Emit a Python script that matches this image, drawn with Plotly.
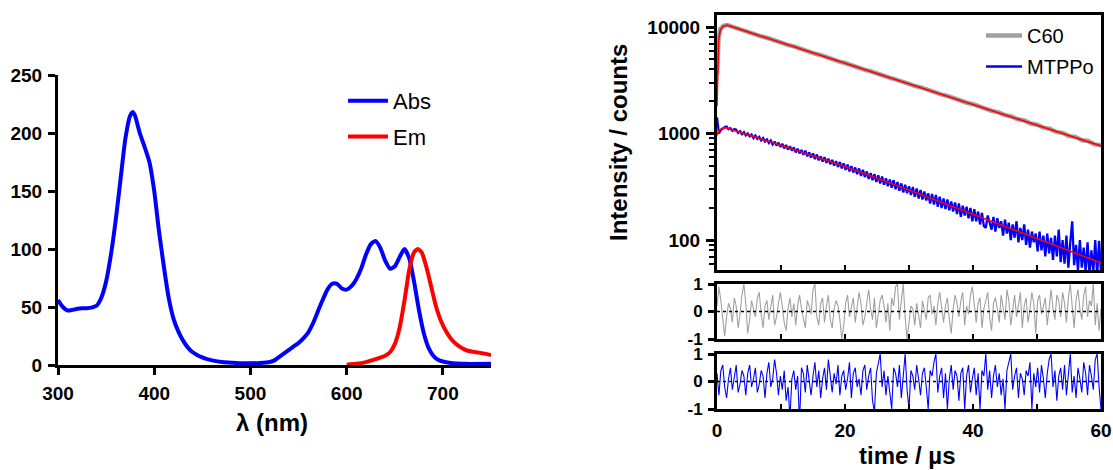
import numpy as np
import plotly.graph_objects as go

# ---------------- absorption / emission spectra ----------------
abs_nm = [300, 305, 310, 315, 320, 325, 330, 335, 340, 345, 350, 355, 360, 365, 370, 375, 378,
          380, 385, 390, 395, 400, 405, 410, 415, 420, 425, 430, 435, 440, 445, 450, 455, 460,
          470, 480, 490, 500, 510, 520, 525, 530, 535, 540, 545, 550, 555, 560, 565, 570, 575,
          580, 585, 590, 595, 600, 605, 610, 615, 620, 625, 630, 635, 640, 645, 650, 655, 660,
          665, 670, 675, 680, 685, 690, 695, 700, 710, 720, 750]
abs_val = [56, 50, 47, 47.5, 48.5, 49, 49, 49.5, 51, 58, 72, 95, 125, 160, 195, 215, 218,
           215, 200, 188, 175, 150, 115, 85, 58, 40, 29, 21, 15, 11, 8.5, 6.5, 5, 4,
           2.5, 2, 1.5, 1.5, 1.8, 2.6, 4, 7, 10, 13, 16, 19, 23, 28, 36, 46, 56,
           65, 70, 70, 66, 65, 68, 74, 83, 95, 104, 107, 101, 90, 83, 85, 93, 100,
           92, 72, 48, 28, 15, 8, 4.5, 3, 1.5, 1, 1]

em_nm = [600, 610, 620, 630, 640, 645, 650, 655, 660, 665, 670, 674, 678, 683, 688, 693, 698,
         704, 710, 717, 725, 735, 742, 750]
em_val = [0.3, 1, 2.5, 5, 8, 11, 18, 32, 55, 82, 97, 100, 97, 84, 67, 50, 38,
          28, 21, 16, 12.5, 11, 10, 8.5]

# ---------------- luminescence decays ----------------
c60_t = [0, 0.25, 0.5, 1, 1.6] + list(range(2, 61))
c60_counts = [3600, 7900, 9500, 10250, 10450,
              10250, 9720, 9380, 8900, 8580, 8140, 7850, 7440, 7180, 6800,
              6570, 6220, 6000, 5690, 5490, 5200, 5020, 4760, 4590, 4350,
              4200, 3980, 3840, 3640, 3510, 3330, 3210, 3045, 2935, 2785,
              2690, 2545, 2460, 2330, 2250, 2130, 2060, 1945, 1885, 1780,
              1725, 1625, 1580, 1485, 1445, 1360, 1325, 1240, 1210, 1135,
              1110, 1035, 1015, 945, 930, 865, 850, 790, 775]

# MTPPo decay, one channel every 0.3 us from 0 to 60 us
mt_counts = [1420, 1000, 1075, 1115, 1150, 1160, 1095, 1120, 1060, 1100,
             1085, 1010, 1050, 985, 1030, 960, 1000, 940, 975, 905,
             955, 890, 930, 860, 905, 840, 880, 815, 860, 790,
             840, 770, 820, 750, 800, 725, 780, 705, 760, 690,
             740, 665, 720, 650, 700, 630, 690, 610, 665, 595,
             650, 575, 635, 560, 610, 545, 600, 530, 580, 515,
             565, 500, 550, 485, 540, 470, 525, 455, 510, 440,
             495, 430, 480, 415, 470, 400, 455, 390, 440, 375,
             425, 365, 415, 350, 405, 340, 395, 330, 380, 320,
             370, 310, 365, 300, 350, 290, 340, 280, 330, 275,
             320, 265, 315, 255, 305, 245, 295, 240, 285, 235,
             275, 220, 270, 215, 265, 205, 255, 200, 245, 195,
             240, 190, 230, 185, 225, 175, 220, 165, 210, 170,
             205, 160, 200, 150, 195, 150, 185, 140, 180, 135,
             130, 170, 145, 125, 165, 120, 160, 130, 150, 110,
             155, 115, 145, 100, 140, 105, 150, 95, 130, 100,
             140, 90, 125, 85, 120, 95, 115, 78, 120, 80,
             110, 70, 115, 75, 105, 65, 110, 70, 125, 62,
             100, 60, 110, 55, 95, 150, 58, 90, 52, 100,
             55, 85, 50, 95, 48, 80, 50, 100, 47, 98,
             50]
mt_t = np.linspace(0, 60, len(mt_counts))

# fitted decay curves
c60_fit_t = [0, 0.1, 0.25, 0.5, 0.9, 1.6, 10, 20, 30, 40, 50, 60]
c60_fit = [1800, 4500, 7400, 9300, 10100, 10400, 7144, 4571, 2924, 1871, 1197, 765]
mt_fit_t = [0, 0.3, 0.7, 1.3, 10, 20, 30, 40, 50, 60]
mt_fit = [960, 1060, 1115, 1135, 776, 490, 295, 174, 102, 61]

# weighted residuals of the two fits (same 0.3 us channels)
c60_resid = [0.2, 0.9, 0.4, -0.3, -0.9, -0.2, 0.3, 0.1, -0.4, 0.5, 0.2, -0.6, -0.1, 0.6, 1.0, 0.3, -0.8, -0.3, 0.4, 0.1,
             -0.2, 0.5, 0.7, -0.1, -0.6, 0.2, 0.4, -0.3, 0.1, 0.6, -0.5, -0.2, 0.3, 0.7, 0.2, -0.4, -0.7, 0.1, 0.5, -0.2,
             0.3, -0.5, 0.2, 0.6, 0.1, -0.3, -0.6, 0.4, 0.2, -0.1, 0.8, 1.0, -0.2, -0.5, 0.3, 0.5, -0.4, 0.2, 0.6, -0.3,
             -0.6, 0.1, 0.4, 0.2, -0.3, -1.0, -0.5, 0.3, 0.6, -0.2, 0.1, 0.5, -0.4, 0.2, 0.7, 0.3, -0.5, -0.2, 0.4, 0.8,
             0.1, -0.3, 0.5, -0.6, -0.1, 0.4, 0.6, 0.2, -0.4, 0.3, -0.7, 0.5, 0.2, 0.9, 1.0, -0.3, 0.4, 1.0, -0.2, -1.0,
             -0.4, 0.2, 0.1, -0.5, 0.3, -0.2, -0.6, 0.4, 0.1, -0.3, 0.5, 0.6, -0.1, 0.2, -0.5, 0.3, 0.7, 0.1, -0.4, 0.2,
             0.5, -0.3, -0.8, 0.1, 0.6, 0.3, -0.2, 0.4, 0.7, -0.5, 0.2, -0.1, 0.6, 0.9, 0.2, -0.4, 0.3, 0.5, -0.6, 0.1,
             0.4, 0.7, -0.2, -0.7, 0.3, 0.5, 0.1, -0.4, 0.6, 0.2, -0.3, 0.8, 0.4, -0.5, 0.1, 0.6, -0.2, 0.3, 0.7, -0.6,
             0.2, 0.5, -0.4, 0.1, 0.7, 0.3, -0.8, 0.4, 0.6, -0.1, 0.2, 0.5, -0.5, 0.3, 0.8, 0.1, -0.3, 0.6, 0.4, -0.2,
             0.7, 0.3, -0.4, 0.5, 1.0, 0.2, -0.6, 0.4, 0.8, 0.1, -0.3, 0.6, 0.9, -0.2, 0.4, 0.2, 1.0, -0.5, 0.3, -0.7,
             0.1]
mt_resid = [0.3, -0.5, 0.4, 0.6, -0.2, -0.6, 0.1, 0.5, -0.3, 0.2, 0.6, -0.4, -0.1, 0.4, 0.2, -0.5, 0.3, 0.6, -0.2, 0.1,
            0.5, -0.4, -0.1, 0.4, 0.2, -0.6, 0.3, 0.7, -0.2, 0.1, 0.8, 0.3, -0.5, 0.2, -0.3, 0.4, -0.7, -0.2, -1.3, 0.1,
            0.4, -0.3, 0.2, -1.5, 0.5, 0.3, -0.4, 0.6, 0.1, -0.5, 0.2, 0.7, -0.2, 0.4, -0.6, 0.1, 0.5, -0.3, 0.8, 0.2,
            -0.4, 0.3, -0.1, 0.6, -0.5, 0.2, 0.4, -0.3, 0.1, 0.7, -0.6, 0.3, 0.5, -0.2, 0.1, -0.5, 0.4, 0.6, -0.3, 0.2,
            0.5, -0.7, -1.1, 0.3, 0.6, 1.0, -0.2, 0.4, -0.5, 0.2, -0.4, -1.0, 0.5, 0.3, -0.2, 0.6, -0.6, 0.1, 1.0, -0.3,
            -1.0, 0.4, 0.2, -0.3, 0.6, 0.1, -0.5, 0.3, 0.5, -0.2, -1.0, 0.4, 0.2, 0.7, 1.0, -0.4, 0.2, 0.5, -0.6, 0.3,
            -1.0, 0.1, 0.6, -0.3, 0.4, 0.2, -0.7, 0.3, 0.5, -1.0, 0.2, 0.6, -0.4, 0.1, 0.5, -0.5, 0.3, -1.0, 0.4, 0.2,
            1.0, -0.3, 0.4, -0.6, 0.2, 0.6, -0.2, 0.3, -0.5, 0.1, -1.0, 0.4, 0.7, 1.0, -0.3, 0.2, 0.5, -0.6, 0.3, 0.1,
            -0.5, 0.4, 0.2, 0.7, -1.0, 0.3, -0.2, 0.5, -0.4, 0.6, 0.1, -0.6, 0.3, 0.8, 1.0, -0.2, 0.4, -0.7, 0.2, 0.5,
            -0.3, 0.6, -0.5, 0.3, 1.0, -0.4, 0.2, -0.6, 0.5, 0.1, -0.4, 0.7, 0.3, -0.5, 0.6, 0.2, -0.3, 0.8, 1.0, -0.2,
            -1.0]
c60_resid_t = np.linspace(0, 60, len(c60_resid))
mt_resid_t = np.linspace(0, 60, len(mt_resid))

# ---------------- styling ----------------
FONT = "Liberation Sans, Arial, sans-serif"
TICKFONT = dict(family=FONT, size=19, color="black", weight="bold")
RES_TICKFONT = dict(family=FONT, size=17, color="black", weight="bold")
BLUE = "#0000FF"
RED = "#FF0000"
GREY = "#A0A0A0"

W, H = 1113, 470


def px_x(p):
    return p / W


def px_y(p):
    return 1 - p / H


fig = go.Figure()

# spectra
fig.add_trace(go.Scatter(x=abs_nm, y=abs_val, mode="lines", name="Abs",
                         line=dict(color=BLUE, width=4, shape="spline", smoothing=0.6),
                         xaxis="x", yaxis="y", legend="legend", legendgroup="a"))
fig.add_trace(go.Scatter(x=em_nm, y=em_val, mode="lines", name="Em",
                         line=dict(color=RED, width=4, shape="spline", smoothing=0.6),
                         xaxis="x", yaxis="y", legend="legend", legendgroup="b"))

# decays
fig.add_trace(go.Scatter(x=c60_t, y=c60_counts, mode="lines", name="C60",
                         line=dict(color=GREY, width=4.5),
                         xaxis="x2", yaxis="y2", legend="legend2", legendgroup="c"))
fig.add_trace(go.Scatter(x=mt_t, y=mt_counts, mode="lines", name="MTPPo",
                         line=dict(color=BLUE, width=2.3),
                         xaxis="x2", yaxis="y2", legend="legend2", legendgroup="d"))
fig.add_trace(go.Scatter(x=c60_fit_t, y=c60_fit, mode="lines", showlegend=False,
                         line=dict(color=RED, width=1.6), xaxis="x2", yaxis="y2"))
fig.add_trace(go.Scatter(x=mt_fit_t, y=mt_fit, mode="lines", showlegend=False,
                         line=dict(color=RED, width=1.6), xaxis="x2", yaxis="y2"))

# residuals
fig.add_trace(go.Scatter(x=c60_resid_t, y=c60_resid, mode="lines", showlegend=False,
                         line=dict(color=GREY, width=1.1), xaxis="x3", yaxis="y3"))
fig.add_trace(go.Scatter(x=mt_resid_t, y=mt_resid, mode="lines", showlegend=False,
                         line=dict(color=BLUE, width=1.1), xaxis="x4", yaxis="y4"))

axis_common = dict(showgrid=False, zeroline=False, showline=True, linecolor="black",
                   tickcolor="black", ticklabelstandoff=2, automargin=False)

left_dom_x = [px_x(58), px_x(491)]
right_dom_x = [px_x(717), px_x(1101)]

fig.update_layout(
    width=W, height=H,
    margin=dict(l=0, r=0, t=0, b=0, autoexpand=False),
    paper_bgcolor="white", plot_bgcolor="white",
    font=dict(family=FONT, color="black"),
    xaxis=dict(domain=left_dom_x, anchor="y", range=[300, 750],
               tickvals=[300, 400, 500, 600, 700], ticks="outside", ticklen=7,
               tickwidth=3, linewidth=3, tickfont=TICKFONT, **axis_common),
    yaxis=dict(domain=[px_y(365), px_y(75)], anchor="x", range=[0, 250],
               tickvals=[0, 50, 100, 150, 200, 250], ticks="outside", ticklen=7,
               tickwidth=3, linewidth=3, tickfont=TICKFONT, **axis_common),
    xaxis2=dict(domain=right_dom_x, anchor="y2", range=[0, 60],
                tickvals=[0, 10, 20, 30, 40, 50, 60], showticklabels=False,
                ticks="inside", ticklen=5, tickwidth=2, linewidth=3, mirror=True,
                tickfont=TICKFONT, **axis_common),
    yaxis2=dict(domain=[px_y(270), px_y(15)], anchor="x2", type="log",
                range=[1.7183, 4.1127], dtick=1, tickformat="d",
                ticks="outside", ticklen=8, tickwidth=2.5, linewidth=3, mirror=True,
                minor=dict(dtick="D1", ticks="outside", ticklen=5, tickwidth=2,
                           tickcolor="black"),
                tickfont=TICKFONT, **axis_common),
    xaxis3=dict(domain=right_dom_x, anchor="y3", range=[0, 60],
                tickvals=[0, 10, 20, 30, 40, 50, 60], showticklabels=False,
                ticks="inside", ticklen=5, tickwidth=2, linewidth=3, mirror=True,
                tickfont=TICKFONT, **axis_common),
    yaxis3=dict(domain=[px_y(339), px_y(284)], anchor="x3", range=[-1, 1],
                tickvals=[-1, 0, 1], ticktext=["-1", "0", "1"],
                ticks="outside", ticklen=6, tickwidth=2.5, linewidth=3, mirror=True,
                tickfont=RES_TICKFONT, **axis_common),
    xaxis4=dict(domain=right_dom_x, anchor="y4", range=[0, 60],
                tickvals=[0, 20, 40, 60],
                ticks="inside", ticklen=5, tickwidth=2, linewidth=3, mirror=True,
                minor=dict(tickvals=[10, 30, 50], ticks="inside", ticklen=5, tickwidth=2,
                           tickcolor="black"),
                tickfont=TICKFONT, **axis_common),
    yaxis4=dict(domain=[px_y(409), px_y(354)], anchor="x4", range=[-1, 1],
                tickvals=[-1, 0, 1], ticktext=["-1", "0", "1"],
                ticks="outside", ticklen=6, tickwidth=2.5, linewidth=3, mirror=True,
                tickfont=RES_TICKFONT, **axis_common),
    legend=dict(x=px_x(343), y=px_y(80), xanchor="left", yanchor="top",
                font=dict(family=FONT, size=22, color="black"),
                bgcolor="rgba(0,0,0,0)", tracegroupgap=4, itemwidth=40),
    legend2=dict(x=px_x(981), y=px_y(16), xanchor="left", yanchor="top",
                 font=dict(family=FONT, size=20, color="black"),
                 bgcolor="rgba(0,0,0,0)", tracegroupgap=2, itemwidth=36),
    annotations=[
        dict(text="λ (nm)", xref="paper", yref="paper", x=px_x(272), y=px_y(422),
             xanchor="center", yanchor="middle", showarrow=False,
             font=dict(family=FONT, size=24, weight="bold")),
        dict(text="Intensity / counts", xref="paper", yref="paper", x=px_x(619),
             y=px_y(143), xanchor="center", yanchor="middle", textangle=-90,
             showarrow=False, font=dict(family=FONT, size=24, weight="bold")),
        dict(text="time / µs", xref="paper", yref="paper", x=px_x(907), y=px_y(455),
             xanchor="center", yanchor="middle", showarrow=False,
             font=dict(family=FONT, size=24, weight="bold")),
    ],
    shapes=[
        dict(type="line", xref="x3 domain", yref="y3", x0=0, x1=1, y0=0, y1=0,
             line=dict(color="black", width=1.5, dash="3px,3px"), layer="above"),
        dict(type="line", xref="x4 domain", yref="y4", x0=0, x1=1, y0=0, y1=0,
             line=dict(color="black", width=1.5, dash="3px,3px"), layer="above"),
    ],
)

fig.write_html("out.html")
